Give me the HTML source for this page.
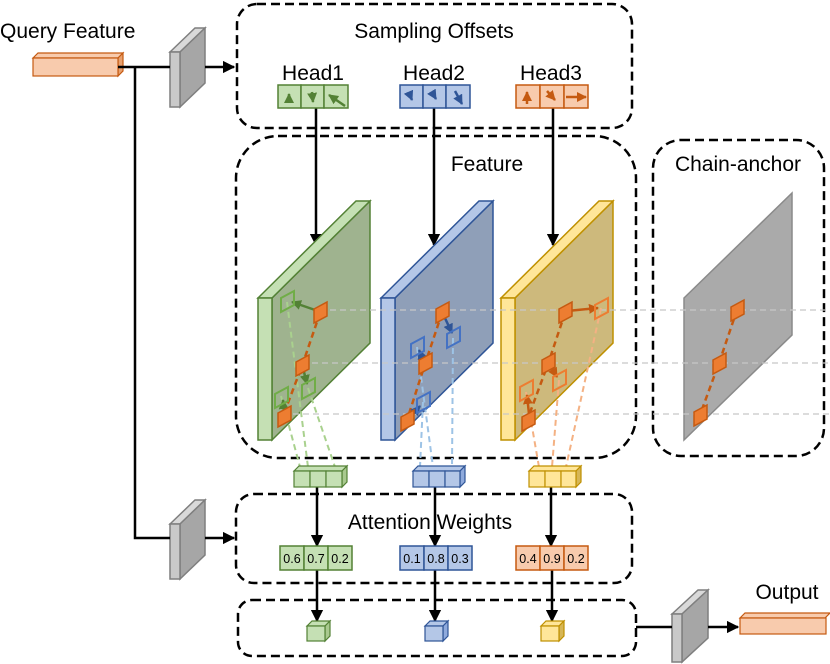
<!DOCTYPE html>
<html><head><meta charset="utf-8"><style>
html,body{margin:0;padding:0;background:#fff;}
svg{display:block;font-family:"Liberation Sans",Arial,sans-serif;}
</style></head><body>
<svg width="830" height="664" viewBox="0 0 830 664" xmlns="http://www.w3.org/2000/svg">
<defs>
<marker id="ah" viewBox="0 0 10 10" refX="9" refY="5" markerWidth="5" markerHeight="5" orient="auto"><path d="M0,0 L10,5 L0,10 Z" fill="#000"/></marker>
<marker id="ag" viewBox="0 0 10 10" refX="9" refY="5" markerWidth="4" markerHeight="4" orient="auto"><path d="M0,0 L10,5 L0,10 Z" fill="#538135"/></marker>
<marker id="ab" viewBox="0 0 10 10" refX="9" refY="5" markerWidth="4" markerHeight="4" orient="auto"><path d="M0,0 L10,5 L0,10 Z" fill="#2f5597"/></marker>
<marker id="ao" viewBox="0 0 10 10" refX="9" refY="5" markerWidth="4" markerHeight="4" orient="auto"><path d="M0,0 L10,5 L0,10 Z" fill="#c55a11"/></marker>
<path id="dm" d="M-6,-3 L7,-10 L7,4 L-6,11 Z"/>
</defs>

<g fill="none" stroke="#000" stroke-width="2.5" stroke-dasharray="9,5">
<rect x="237" y="4" width="395" height="124" rx="20"/>
<rect x="236" y="136" width="400" height="322" rx="42"/>
<rect x="653" y="140" width="171" height="316" rx="28"/>
<rect x="236" y="494" width="396" height="89" rx="18"/>
<rect x="238" y="600" width="398" height="56" rx="14"/>
</g>

<text x="0" y="38" font-size="21">Query Feature</text>
<text x="434" y="38" font-size="21" text-anchor="middle">Sampling Offsets</text>
<text x="313" y="80" font-size="21" text-anchor="middle">Head1</text>
<text x="434" y="80" font-size="21" text-anchor="middle">Head2</text>
<text x="551" y="80" font-size="21" text-anchor="middle">Head3</text>
<text x="487" y="171" font-size="21" text-anchor="middle">Feature</text>
<text x="738" y="171" font-size="21" text-anchor="middle">Chain-anchor</text>
<text x="430" y="529" font-size="21" text-anchor="middle">Attention Weights</text>
<text x="787" y="599" font-size="21" text-anchor="middle">Output</text>

<g stroke="#c55a11" stroke-width="1.2">
<path d="M33,58 L38,53 L123,53 L118,58 Z" fill="#f8cbad"/>
<path d="M118,58 L123,53 L123,71 L118,76 Z" fill="#e8a06e"/>
<rect x="33" y="58" width="85" height="18" fill="#f8cbad"/>
</g>
<g stroke="#c55a11" stroke-width="1.2">
<path d="M740,618 L745,613 L830,613 L825,618 Z" fill="#f8cbad"/>
<rect x="740" y="618" width="86" height="16" fill="#f8cbad"/>
</g>

<g stroke="#7f7f7f" stroke-width="1.5">
<g>
<path d="M170,52 L195,28 L205,28 L180,52 Z" fill="#d9d9d9"/>
<path d="M180,52 L205,28 L205,83 L180,107 Z" fill="#a6a6a6"/>
<rect x="170" y="52" width="10" height="55" fill="#c9c9c9"/>
</g>
<g transform="translate(0,472)">
<path d="M170,52 L195,28 L205,28 L180,52 Z" fill="#d9d9d9"/>
<path d="M180,52 L205,28 L205,83 L180,107 Z" fill="#a6a6a6"/>
<rect x="170" y="52" width="10" height="55" fill="#c9c9c9"/>
</g>
<g transform="translate(672,590)">
<path d="M0,24 L26,0 L36,0 L10,24 Z" fill="#d9d9d9"/>
<path d="M10,24 L36,0 L36,48 L10,72 Z" fill="#a6a6a6"/>
<rect x="0" y="24" width="10" height="48" fill="#c9c9c9"/>
</g>
</g>

<g stroke="#000" stroke-width="2.5" fill="none">
<path d="M118,67 L170,67"/>
<path d="M205,67 L234,67" marker-end="url(#ah)"/>
<path d="M135,67 L135,538 L170,538"/>
<path d="M205,538 L234,538" marker-end="url(#ah)"/>
<path d="M636,627 L672,627"/>
<path d="M708,627 L738,627" marker-end="url(#ah)"/>
<path d="M316,108 L316,245" marker-end="url(#ah)"/>
<path d="M434,108 L434,245" marker-end="url(#ah)"/>
<path d="M553,108 L553,245" marker-end="url(#ah)"/>
<path d="M317,487 L317,546" marker-end="url(#ah)"/>
<path d="M435,487 L435,546" marker-end="url(#ah)"/>
<path d="M551,487 L551,546" marker-end="url(#ah)"/>
<path d="M317,570 L317,621" marker-end="url(#ah)"/>
<path d="M435,570 L435,621" marker-end="url(#ah)"/>
<path d="M552,570 L552,621" marker-end="url(#ah)"/>
</g>

<g stroke-width="1.5">
<g fill="#c5e0b4" stroke="#538135"><rect x="278" y="85" width="23" height="23"/><rect x="301" y="85" width="23" height="23"/><rect x="324" y="85" width="24" height="23"/></g>
<g fill="#b4c7e7" stroke="#2f5597"><rect x="400" y="85" width="23" height="23"/><rect x="423" y="85" width="23" height="23"/><rect x="446" y="85" width="24" height="23"/></g>
<g fill="#f8cbad" stroke="#c55a11"><rect x="516" y="85" width="24" height="23"/><rect x="540" y="85" width="24" height="23"/><rect x="564" y="85" width="24" height="23"/></g>
</g>
<g stroke-width="2.5" fill="none">
<path d="M289,101 L289,94" stroke="#538135" marker-end="url(#ag)"/>
<path d="M312,92 L313,102" stroke="#538135" marker-end="url(#ag)"/>
<path d="M345,106 L329,95" stroke="#538135" marker-end="url(#ag)"/>
<path d="M409,93 L412,100" stroke="#2f5597" marker-end="url(#ab)"/>
<path d="M433,94 L436,99" stroke="#2f5597" marker-end="url(#ab)"/>
<path d="M455,91 L462,104" stroke="#2f5597" marker-end="url(#ab)"/>
<path d="M527,104 L527,92" stroke="#c55a11" marker-end="url(#ao)"/>
<path d="M547,91 L555,100" stroke="#c55a11" marker-end="url(#ao)"/>
<path d="M566,97 L586,97" stroke="#c55a11" marker-end="url(#ao)"/>
</g>

<path d="M684,298 L792,193 L792,335 L684,440 Z" fill="#aaaaaa" stroke="#8a8a8a" stroke-width="1.5"/>

<g stroke-width="1.5">
<g stroke="#538135">
<path d="M272,298 L370,201 L370,343 L272,440 Z" fill="#9fb38f"/>
<path d="M258,298 L356,201 L370,201 L272,298 Z" fill="#c5e0b4"/>
<rect x="258" y="298" width="14" height="142" fill="#c5e0b4"/>
</g>
<g stroke="#2f5597">
<path d="M395,298 L493,201 L493,343 L395,440 Z" fill="#8f9fb8"/>
<path d="M381,298 L479,201 L493,201 L395,298 Z" fill="#b4c7e7"/>
<rect x="381" y="298" width="14" height="142" fill="#b4c7e7"/>
</g>
<g stroke="#bf9000">
<path d="M515,298 L613,201 L613,343 L515,440 Z" fill="#cdb97c"/>
<path d="M501,298 L599,201 L613,201 L515,298 Z" fill="#ffe699"/>
<rect x="501" y="298" width="14" height="142" fill="#ffe699"/>
</g>
</g>

<g stroke="#c8c8c8" stroke-width="1.2" stroke-dasharray="6,4">
<path d="M320,310 L830,310"/><path d="M302,363 L830,363"/><path d="M283,414 L830,414"/>
</g>

<g stroke-width="2" stroke-dasharray="6,4" fill="none">
<g stroke="#a9d18e"><path d="M287,302 L308,467"/><path d="M308,388 L335,467"/><path d="M281,396 L300,467"/></g>
<g stroke="#9dc3e6"><path d="M453,338 L452,467"/><path d="M417,347 L433,467"/><path d="M423,402 L420,467"/></g>
<g stroke="#f4b183"><path d="M601,308 L566,467"/><path d="M559,380 L552,467"/><path d="M526,392 L539,467"/></g>
</g>

<g stroke="#c55a11" stroke-width="2.5" stroke-dasharray="6,4" fill="none">
<path d="M320,313 L302,366 L283,416"/>
<path d="M442,313 L425,364 L407,420"/>
<path d="M565,313 L548,364 L528,418"/>
<path d="M737,310 L719,363 L700,415"/>
</g>

<g stroke-width="2.5" fill="none">
<path d="M318,311 L292,302" stroke="#538135" marker-end="url(#ag)"/>
<path d="M303,368 L307,384" stroke="#538135" marker-end="url(#ag)"/>
<path d="M284,413 L283,400" stroke="#538135" marker-end="url(#ag)"/>
<path d="M444,316 L452,333" stroke="#2f5597" marker-end="url(#ab)"/>
<path d="M423,360 L419,350" stroke="#2f5597" marker-end="url(#ab)"/>
<path d="M410,418 L420,406" stroke="#2f5597" marker-end="url(#ab)"/>
<path d="M567,311 L598,308" stroke="#c55a11" marker-end="url(#ao)"/>
<path d="M550,365 L557,377" stroke="#c55a11" marker-end="url(#ao)"/>
<path d="M529,414 L527,395" stroke="#c55a11" marker-end="url(#ao)"/>
</g>

<g fill="none" stroke-width="2">
<g stroke="#70ad47"><use href="#dm" x="287" y="301"/><use href="#dm" x="308" y="388"/><use href="#dm" x="281" y="397"/></g>
<g stroke="#4472c4"><use href="#dm" x="453" y="337"/><use href="#dm" x="417" y="347"/><use href="#dm" x="423" y="402"/></g>
<g stroke="#ed7d31"><use href="#dm" x="601" y="308"/><use href="#dm" x="559" y="380"/><use href="#dm" x="526" y="390"/></g>
</g>
<g fill="#ed7d31" stroke="#c55a11" stroke-width="1.5">
<use href="#dm" x="320" y="312"/><use href="#dm" x="302" y="365"/><use href="#dm" x="284" y="416"/>
<use href="#dm" x="442" y="312"/><use href="#dm" x="425" y="363"/><use href="#dm" x="407" y="420"/>
<use href="#dm" x="565" y="312"/><use href="#dm" x="548" y="363"/><use href="#dm" x="528" y="420"/>
<use href="#dm" x="737" y="310"/><use href="#dm" x="719" y="363"/><use href="#dm" x="700" y="415"/>
</g>

<g stroke-width="1.2">
<g stroke="#538135" fill="#c5e0b4">
<path d="M294,471 L299,466 L347,466 L342,471 Z"/><path d="M342,471 L347,466 L347,482 L342,487 Z" fill="#a9c98f"/>
<rect x="294" y="471" width="16" height="16"/><rect x="310" y="471" width="16" height="16"/><rect x="326" y="471" width="16" height="16"/>
</g>
<g stroke="#2f5597" fill="#b4c7e7">
<path d="M413,471 L418,466 L465,466 L460,471 Z"/><path d="M460,471 L465,466 L465,482 L460,487 Z" fill="#8faadc"/>
<rect x="413" y="471" width="16" height="16"/><rect x="429" y="471" width="16" height="16"/><rect x="445" y="471" width="15" height="16"/>
</g>
<g stroke="#bf9000" fill="#ffe699">
<path d="M529,471 L534,466 L581,466 L576,471 Z"/><path d="M576,471 L581,466 L581,482 L576,487 Z" fill="#d6b656"/>
<rect x="529" y="471" width="16" height="16"/><rect x="545" y="471" width="16" height="16"/><rect x="561" y="471" width="15" height="16"/>
</g>
</g>

<g stroke-width="1.5">
<g fill="#c5e0b4" stroke="#538135"><rect x="280" y="546" width="24" height="24"/><rect x="304" y="546" width="24" height="24"/><rect x="328" y="546" width="24" height="24"/></g>
<g fill="#b4c7e7" stroke="#2f5597"><rect x="400" y="546" width="24" height="24"/><rect x="424" y="546" width="24" height="24"/><rect x="448" y="546" width="24" height="24"/></g>
<g fill="#f8cbad" stroke="#c55a11"><rect x="516" y="546" width="24" height="24"/><rect x="540" y="546" width="24" height="24"/><rect x="564" y="546" width="24" height="24"/></g>
</g>
<g font-size="12.5" text-anchor="middle">
<text x="292" y="563">0.6</text><text x="316" y="563">0.7</text><text x="340" y="563">0.2</text>
<text x="412" y="563">0.1</text><text x="436" y="563">0.8</text><text x="460" y="563">0.3</text>
<text x="528" y="563">0.4</text><text x="552" y="563">0.9</text><text x="576" y="563">0.2</text>
</g>

<g stroke-width="1.2">
<g stroke="#538135"><path d="M307,626 L312,621 L330,621 L325,626 Z" fill="#c5e0b4"/><path d="M325,626 L330,621 L330,636 L325,641 Z" fill="#a9c98f"/><rect x="307" y="626" width="18" height="15" fill="#c5e0b4"/></g>
<g stroke="#2f5597"><path d="M425,626 L430,621 L448,621 L443,626 Z" fill="#b4c7e7"/><path d="M443,626 L448,621 L448,636 L443,641 Z" fill="#8faadc"/><rect x="425" y="626" width="18" height="15" fill="#b4c7e7"/></g>
<g stroke="#bf9000"><path d="M541,626 L546,621 L564,621 L559,626 Z" fill="#ffe699"/><path d="M559,626 L564,621 L564,636 L559,641 Z" fill="#d6b656"/><rect x="541" y="626" width="18" height="15" fill="#ffe699"/></g>
</g>
</svg>
</body></html>
